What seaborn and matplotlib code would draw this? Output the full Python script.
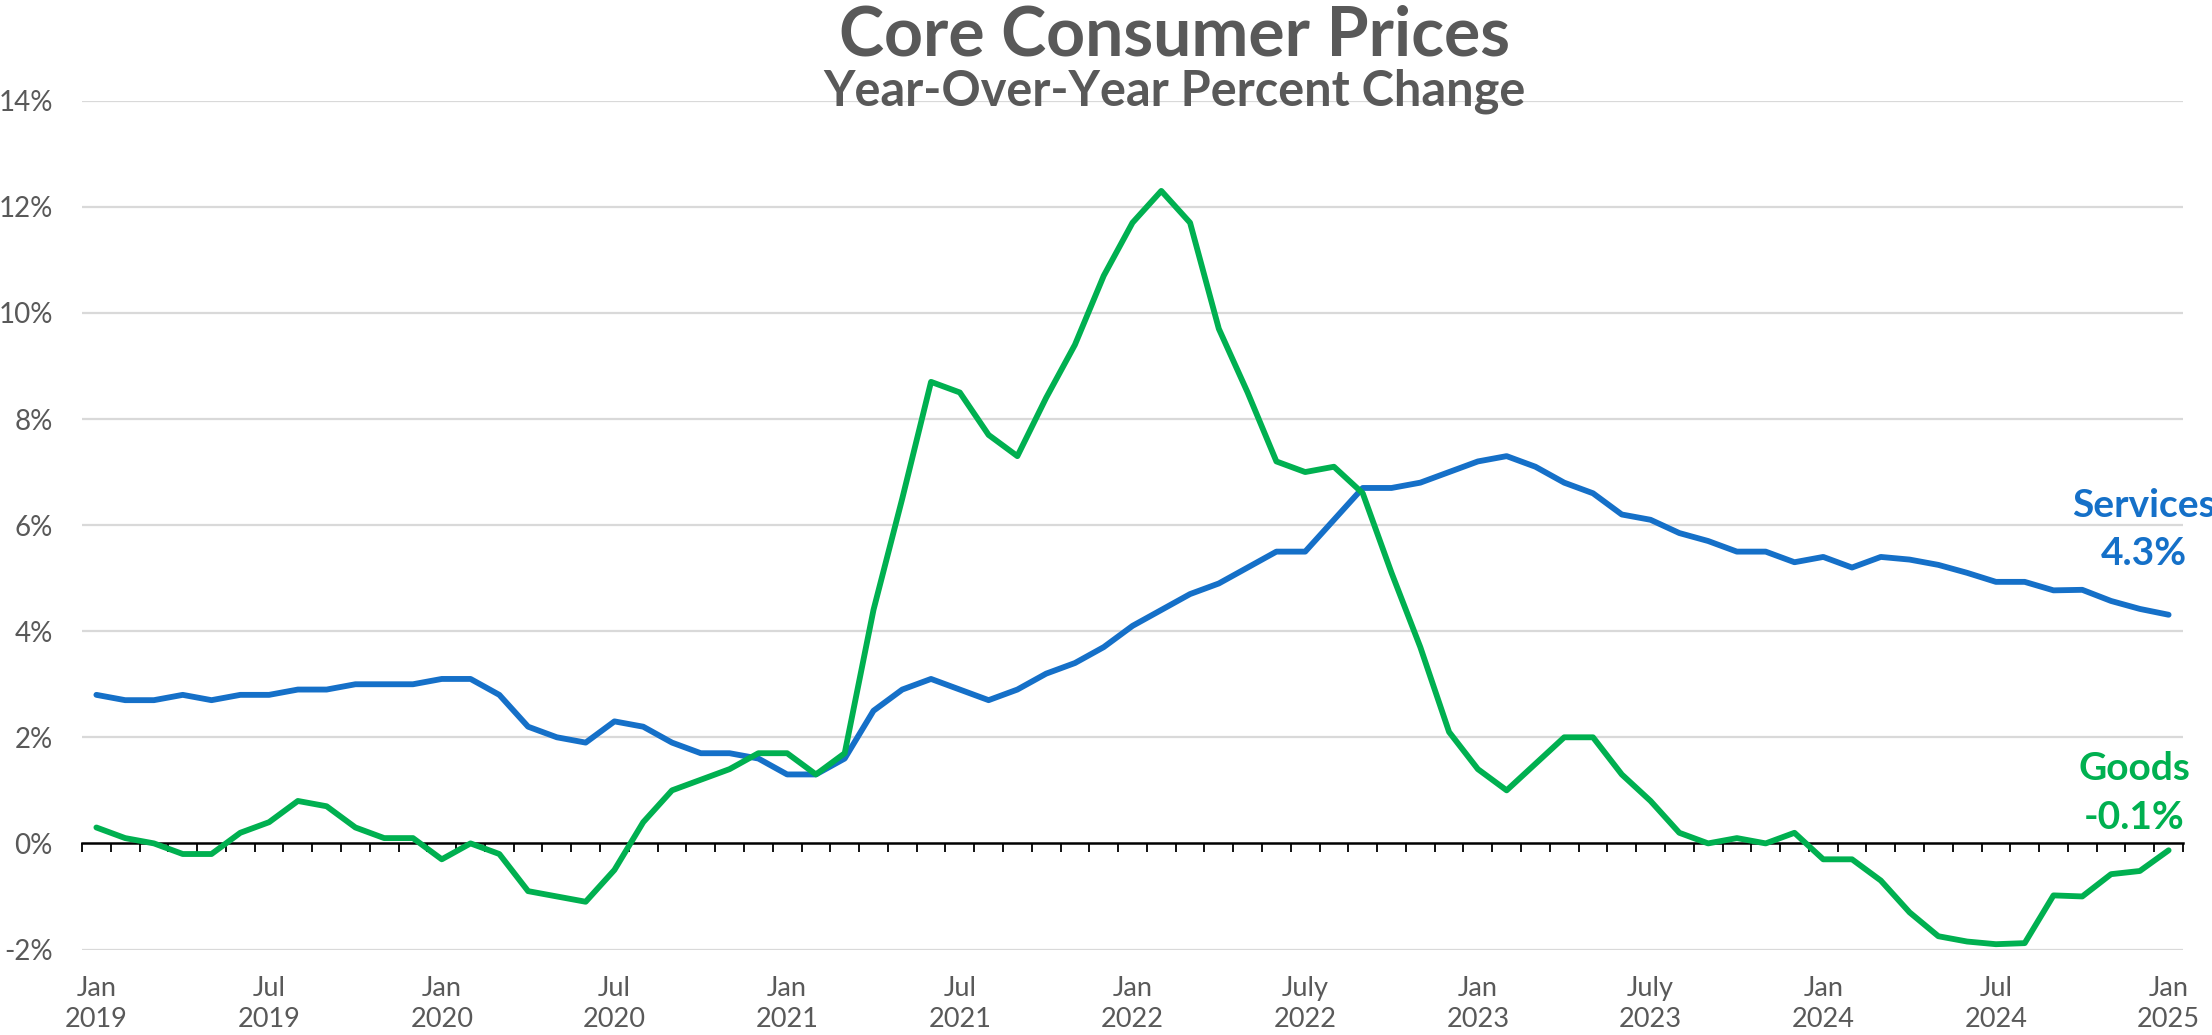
import pandas as pd
import matplotlib.pyplot as plt
import seaborn as sns
import numpy as np

# Core CPI, year-over-year % change, monthly Jan 2019 - Jan 2025
services = [
    2.8, 2.7, 2.7, 2.8, 2.7, 2.8, 2.8, 2.9, 2.9, 3.0, 3.0, 3.0,
    3.1, 3.1, 2.8, 2.2, 2.0, 1.9, 2.3, 2.2, 1.9, 1.7, 1.7, 1.6,
    1.3, 1.3, 1.6, 2.5, 2.9, 3.1, 2.9, 2.7, 2.9, 3.2, 3.4, 3.7,
    4.1, 4.4, 4.7, 4.9, 5.2, 5.5, 5.5, 6.1, 6.7, 6.7, 6.8, 7.0,
    7.2, 7.3, 7.1, 6.8, 6.6, 6.2, 6.1, 5.85, 5.7, 5.5, 5.5, 5.3,
    5.4, 5.2, 5.4, 5.35, 5.25, 5.1, 4.93, 4.93, 4.77, 4.78, 4.57, 4.42,
    4.31,
]
goods = [
    0.3, 0.1, 0.0, -0.2, -0.2, 0.2, 0.4, 0.8, 0.7, 0.3, 0.1, 0.1,
    -0.3, 0.0, -0.2, -0.9, -1.0, -1.1, -0.5, 0.4, 1.0, 1.2, 1.4, 1.7,
    1.7, 1.3, 1.7, 4.4, 6.5, 8.7, 8.5, 7.7, 7.3, 8.4, 9.4, 10.7,
    11.7, 12.3, 11.7, 9.7, 8.5, 7.2, 7.0, 7.1, 6.6, 5.1, 3.7, 2.1,
    1.4, 1.0, 1.5, 2.0, 2.0, 1.3, 0.8, 0.2, 0.0, 0.1, 0.0, 0.2,
    -0.3, -0.3, -0.7, -1.3, -1.75, -1.85, -1.9, -1.88, -0.98, -1.0, -0.58, -0.52,
    -0.13,
]
tick_labels = ['Jan\n2019', 'Jul\n2019', 'Jan\n2020', 'Jul\n2020', 'Jan\n2021',
               'Jul\n2021', 'Jan\n2022', 'July\n2022', 'Jan\n2023', 'July\n2023',
               'Jan\n2024', 'Jul\n2024', 'Jan\n2025']
y_ticks = [-2, 0, 2, 4, 6, 8, 10, 12, 14]

n = len(services)
df = pd.DataFrame({
    'month': list(range(n)) * 2,
    'value': services + goods,
    'series': ['Services'] * n + ['Goods'] * n,
})

blue = '#1570C8'
green = '#00B050'
gray = '#595959'

sns.set_style('white')
plt.rcParams['font.family'] = ['Lato', 'DejaVu Sans']

fig = plt.figure(figsize=(22.12, 10.35), dpi=100)
ax = fig.add_axes([82 / 2212, 85.5 / 1035, (2183 - 82) / 2212, (949.5 - 100.7) / 1035])

for v in y_ticks:
    if v != 0:
        ax.axhline(v, color='#D9D9D9', linewidth=1.6, zorder=0)

sns.lineplot(data=df, x='month', y='value', hue='series', hue_order=['Services', 'Goods'],
             palette={'Services': blue, 'Goods': green}, estimator=None,
             linewidth=4.2, legend=False, ax=ax)

ax.set_xlim(-0.5, n - 0.5)
ax.set_ylim(-2, 14)
ax.set_xlabel('')
ax.set_ylabel('')
for s in ax.spines.values():
    s.set_visible(False)

ax.set_yticks(y_ticks)
ax.set_yticklabels([f'{v}%' for v in y_ticks])
ax.set_xticks(range(0, n, 6))
ax.set_xticklabels(tick_labels, linespacing=1.3)
ax.tick_params(axis='y', length=0, pad=21, labelsize=20, labelcolor=gray)
ax.tick_params(axis='x', length=0, pad=19, labelsize=19.5, labelcolor=gray)

# zero axis with month tick marks
zero = ax.secondary_xaxis(2 / 16)
zero.set_xticks(np.arange(-0.5, n, 1.0))
zero.set_xticklabels([])
zero.tick_params(axis='x', length=6.5, width=1.3, color='black')
zero.spines['bottom'].set_linewidth(1.8)
zero.spines['bottom'].set_color('black')

ax.text(71.15, 5.92, f'Services\n{services[-1]:.1f}%', color=blue, fontsize=28,
        fontweight='bold', ha='center', va='center', linespacing=1.45)
ax.text(70.8, 0.95, f'Goods\n{goods[-1]:.1f}%', color=green, fontsize=28,
        fontweight='bold', ha='center', va='center', linespacing=1.45)

fig.text(0.531, 1 - 55 / 1035, 'Core Consumer Prices', ha='center', va='baseline',
         fontsize=49, fontweight='bold', color=gray)
fig.text(0.531, 1 - 105 / 1035, 'Year-Over-Year Percent Change', ha='center', va='baseline',
         fontsize=35, fontweight='bold', color=gray)

fig.savefig('out.png', dpi=100)
plt.close()
